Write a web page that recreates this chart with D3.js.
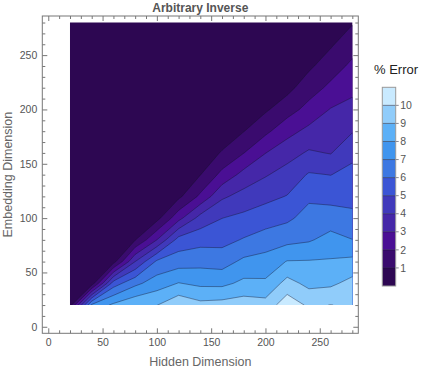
<!DOCTYPE html>
<html>
  <head>
    <meta charset="utf-8">
    <title>Arbitrary Inverse</title>
    <script src="https://d3js.org/d3.v7.min.js"></script>
    <style>
      body { margin: 0; background: #fff; }
      svg { display: block; font-family: "Liberation Sans", Arial, sans-serif; }
    </style>
  </head>
  <body>
    <svg id="chart" width="424" height="372"></svg>
    <script>
      // grid of the data
      const hiddenDims = [20, 40, 60, 80, 100, 120, 140, 160, 180, 200, 220, 240, 260, 280];
      const embeddingDims = [20, 40, 60, 80, 100, 120, 140, 160, 180, 200, 220, 240, 260, 280];
      // % error, one row per embedding dimension, first row = 20
      const errorGrid = [
        [0.5, 7.2, 8.2, 8.8, 8.97, 9.78, 9.29, 9.39, 9.53, 9.4, 10.6, 9.83, 10.02, 9.85],
        [0.2, 0.4, 5.5, 6.75, 7.5, 8.04, 7.78, 7.75, 8.23, 8.17, 9.37, 8.72, 8.8, 9.32],
        [0.1, 0.15, 0.6, 4.0, 6.18, 6.53, 6.67, 6.57, 7.22, 7.4, 8.05, 8.07, 8.1, 8.26],
        [0.1, 0.1, 0.15, 0.95, 3.0, 5.39, 5.65, 5.68, 6.08, 6.46, 6.7, 6.89, 7.35, 7.02],
        [0.1, 0.1, 0.1, 0.2, 0.67, 2.67, 4.38, 4.99, 5.25, 5.53, 5.81, 6.38, 6.49, 6.23],
        [0.1, 0.1, 0.1, 0.1, 0.15, 0.77, 2.2, 3.83, 4.36, 4.73, 5.04, 5.82, 5.67, 5.71],
        [0.1, 0.1, 0.1, 0.1, 0.1, 0.2, 0.97, 2.29, 3.33, 3.91, 4.4, 5.09, 4.98, 5.29],
        [0.1, 0.1, 0.1, 0.1, 0.1, 0.1, 0.2, 1.11, 1.98, 2.98, 3.6, 4.13, 3.95, 4.75],
        [0.1, 0.1, 0.1, 0.1, 0.1, 0.1, 0.1, 0.2, 0.97, 1.77, 2.67, 3.26, 3.45, 3.94],
        [0.1, 0.1, 0.1, 0.1, 0.1, 0.1, 0.1, 0.1, 0.2, 0.86, 1.57, 2.33, 3.05, 3.32],
        [0.1, 0.1, 0.1, 0.1, 0.1, 0.1, 0.1, 0.1, 0.1, 0.2, 0.7, 1.54, 2.22, 2.75],
        [0.1, 0.1, 0.1, 0.1, 0.1, 0.1, 0.1, 0.1, 0.1, 0.1, 0.2, 0.82, 1.52, 2.21],
        [0.1, 0.1, 0.1, 0.1, 0.1, 0.1, 0.1, 0.1, 0.1, 0.1, 0.1, 0.2, 0.87, 1.59],
        [0.1, 0.1, 0.1, 0.1, 0.1, 0.1, 0.1, 0.1, 0.1, 0.1, 0.1, 0.1, 0.2, 0.92]
      ];
      // contour levels and their band colours
      const levels = [0, 1, 2, 3, 4, 5, 6, 7, 8, 9, 10];
      const bandColours = ["#2d0752", "#3a0b6e", "#4a0f94", "#4527a8", "#4039bb", "#3b55d5",
                           "#3d78e2", "#4095ee", "#5cb0f7", "#90ccfa", "#c9eaff"];
      const legendMax = 11;
      const axisTicks = [0, 50, 100, 150, 200, 250];
      const minorTicks = [10, 20, 30, 40, 60, 70, 80, 90, 110, 120, 130, 140, 160, 170, 180, 190,
                          210, 220, 230, 240, 260, 270, 280];
      const legendTicks = [1, 2, 3, 4, 5, 6, 7, 8, 9, 10];

      const svg = d3.select("#chart");
      const frame = { left: 42.3, right: 358.3, top: 16, bottom: 333.3 };

      // scales
      const x = d3.scaleLinear().domain([-5.5, 285.5]).range([frame.left, frame.right]);
      const y = d3.scaleLinear().domain([-6, 286]).range([frame.bottom, frame.top]);
      // contour grid coordinates -> data coordinates
      const nx = hiddenDims.length, ny = embeddingDims.length;
      const gx = d3.scaleLinear().domain([0.5, nx - 0.5]).range(d3.extent(hiddenDims));
      const gy = d3.scaleLinear().domain([0.5, ny - 0.5]).range(d3.extent(embeddingDims));
      const path = d3.geoPath(d3.geoTransform({
        point: function(px, py) { this.stream.point(x(gx(px)), y(gy(py))); }
      }));

      // clip to the data area
      svg.append("defs").append("clipPath")
          .attr("id", "dataClip")
        .append("rect")
          .attr("x", x(d3.min(hiddenDims)))
          .attr("y", y(d3.max(embeddingDims)))
          .attr("width", x(d3.max(hiddenDims)) - x(d3.min(hiddenDims)))
          .attr("height", y(d3.min(embeddingDims)) - y(d3.max(embeddingDims)));

      const bands = d3.contours()
        .size([nx, ny])
        .thresholds(levels)(errorGrid.flat());

      const plot = svg.append("g").attr("clip-path", "url(#dataClip)");
      plot.selectAll(".band")
        .data(bands)
        .enter().append("path")
          .attr("class", "band")
          .attr("d", path)
          .attr("fill", (d, i) => bandColours[i]);
      plot.selectAll(".line")
        .data(bands.slice(1))
        .enter().append("path")
          .attr("class", "line")
          .attr("d", path)
          .attr("fill", "none")
          .attr("stroke", "#14142a")
          .attr("stroke-opacity", 0.5)
          .attr("stroke-width", 0.8);

      // frame ticks (inward) and labels
      function styleAxis(g) {
        g.select(".domain").remove();
        g.selectAll("line").attr("stroke", "#777");
        g.selectAll("text").attr("fill", "#555").style("font-size", "10.5px");
      }
      svg.append("g")
        .attr("transform", `translate(0,${frame.bottom})`)
        .call(d3.axisBottom(x).tickValues(axisTicks).tickSizeInner(-5).tickSizeOuter(0).tickPadding(5))
        .call(styleAxis);
      svg.append("g")
        .attr("transform", `translate(0,${frame.bottom})`)
        .call(d3.axisBottom(x).tickValues(minorTicks).tickSizeInner(-3).tickSizeOuter(0).tickFormat(""))
        .call(styleAxis);
      svg.append("g")
        .attr("transform", `translate(${frame.left},0)`)
        .call(d3.axisLeft(y).tickValues(axisTicks).tickSizeInner(-5).tickSizeOuter(0).tickPadding(5))
        .call(styleAxis);
      svg.append("g")
        .attr("transform", `translate(${frame.left},0)`)
        .call(d3.axisLeft(y).tickValues(minorTicks).tickSizeInner(-3).tickSizeOuter(0).tickFormat(""))
        .call(styleAxis);
      svg.append("g")
        .attr("transform", `translate(0,${frame.top})`)
        .call(d3.axisTop(x).tickValues(axisTicks).tickSizeInner(-5).tickSizeOuter(0).tickFormat(""))
        .call(styleAxis);
      svg.append("g")
        .attr("transform", `translate(0,${frame.top})`)
        .call(d3.axisTop(x).tickValues(minorTicks).tickSizeInner(-3).tickSizeOuter(0).tickFormat(""))
        .call(styleAxis);
      svg.append("g")
        .attr("transform", `translate(${frame.right},0)`)
        .call(d3.axisRight(y).tickValues(axisTicks).tickSizeInner(-5).tickSizeOuter(0).tickFormat(""))
        .call(styleAxis);
      svg.append("g")
        .attr("transform", `translate(${frame.right},0)`)
        .call(d3.axisRight(y).tickValues(minorTicks).tickSizeInner(-3).tickSizeOuter(0).tickFormat(""))
        .call(styleAxis);

      svg.append("rect")
        .attr("x", frame.left)
        .attr("y", frame.top)
        .attr("width", frame.right - frame.left)
        .attr("height", frame.bottom - frame.top)
        .attr("fill", "none")
        .attr("stroke", "#777");

      // titles
      svg.append("text")
        .attr("x", (frame.left + frame.right) / 2)
        .attr("y", 12)
        .attr("text-anchor", "middle")
        .attr("fill", "#555")
        .style("font-size", "12px")
        .style("font-weight", "bold")
        .text("Arbitrary Inverse");
      svg.append("text")
        .attr("x", (frame.left + frame.right) / 2)
        .attr("y", 366)
        .attr("text-anchor", "middle")
        .attr("fill", "#666")
        .style("font-size", "12.5px")
        .text("Hidden Dimension");
      svg.append("text")
        .attr("transform", `translate(11.5,${(frame.top + frame.bottom) / 2}) rotate(-90)`)
        .attr("text-anchor", "middle")
        .attr("fill", "#666")
        .style("font-size", "12.5px")
        .text("Embedding Dimension");

      // legend
      const legend = { left: 382.3, width: 13.4 };
      const ly = d3.scaleLinear().domain([0, legendMax]).range([286, 87.3]);
      const lg = svg.append("g");
      lg.selectAll(".swatch")
        .data(levels)
        .enter().append("rect")
          .attr("class", "swatch")
          .attr("x", legend.left)
          .attr("y", d => ly(d + 1))
          .attr("width", legend.width)
          .attr("height", d => ly(d) - ly(d + 1))
          .attr("fill", (d, i) => bandColours[i]);
      lg.selectAll(".sep")
        .data(legendTicks)
        .enter().append("line")
          .attr("class", "sep")
          .attr("x1", legend.left)
          .attr("x2", legend.left + legend.width + 3)
          .attr("y1", d => ly(d))
          .attr("y2", d => ly(d))
          .attr("stroke", "#14142a")
          .attr("stroke-opacity", 0.5);
      lg.append("rect")
        .attr("x", legend.left)
        .attr("y", ly(legendMax))
        .attr("width", legend.width)
        .attr("height", ly(0) - ly(legendMax))
        .attr("fill", "none")
        .attr("stroke", "#999");
      lg.selectAll(".lab")
        .data(legendTicks)
        .enter().append("text")
          .attr("class", "lab")
          .attr("x", legend.left + legend.width + 4.5)
          .attr("y", d => ly(d))
          .attr("dy", "0.35em")
          .attr("fill", "#555")
          .style("font-size", "10.5px")
          .text(d => d);
      svg.append("text")
        .attr("x", 396)
        .attr("y", 74)
        .attr("text-anchor", "middle")
        .attr("fill", "#222")
        .style("font-size", "13px")
        .text("% Error");
    </script>
  </body>
</html>
